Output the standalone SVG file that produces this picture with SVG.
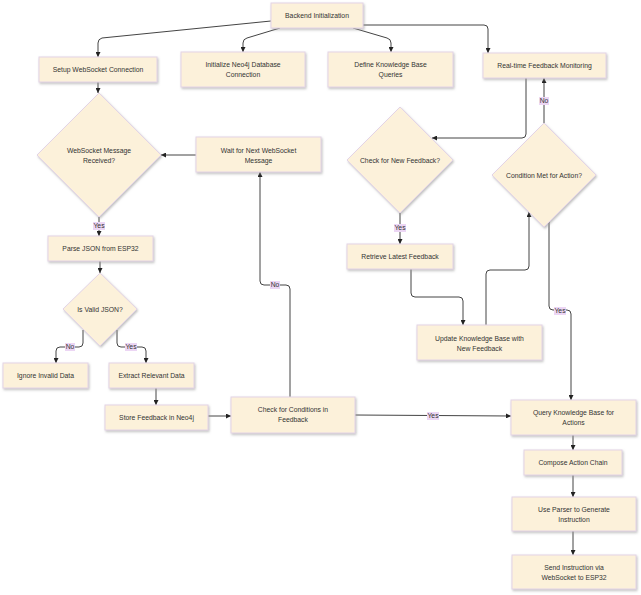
<svg xmlns="http://www.w3.org/2000/svg" width="641" height="595" viewBox="0 0 641 595">
<defs>
<style>
.n{fill:#fcf1da;stroke:#e3d3e6;stroke-width:1;filter:url(#sh)}
.t{font-family:"Liberation Sans",Arial,sans-serif;font-size:6.8px;fill:#333;text-anchor:middle}
.e{fill:none;stroke:#444;stroke-width:1;marker-end:url(#ah)}
.lb{fill:#ecd6f4}
.lt{font-family:"Liberation Sans",Arial,sans-serif;font-size:6.8px;fill:#333;text-anchor:middle}
</style>
<filter id="sh" x="-10%" y="-10%" width="130%" height="140%">
<feDropShadow dx="1" dy="1.5" stdDeviation="0.8" flood-color="#999" flood-opacity="0.6"/>
</filter>
<marker id="ah" viewBox="0 0 10 10" refX="10" refY="5" markerWidth="5" markerHeight="5" markerUnits="userSpaceOnUse" orient="auto">
<path d="M0,0 L10,5 L0,10 z" fill="#222"/>
</marker>
</defs>
<rect width="641" height="595" fill="#fff"/>
<g id="connectors">
<path class="e" d="M271,21 L102,38 Q98,39 98,43 L98,57"/>
<path class="e" d="M280,28 L247,38 Q243,39 243,43 L243,52"/>
<path class="e" d="M353,28 L387,38 Q391,39 391,43 L391,52"/>
<path class="e" d="M363,25 L484,25 Q488,25 488,29 L488,53"/>
<path class="e" d="M98,82 L98,93"/>
<path class="e" d="M99,217 L99,236"/>
<path class="e" d="M196,155 L161,155"/>
<path class="e" d="M100,261 L100,273"/>
<path class="e" d="M83,330 L83,343 Q83,347 79,347 L60,347 Q56,347 56,351 L56,363"/>
<path class="e" d="M117,330 L117,343 Q117,347 121,347 L142,347 Q146,347 146,351 L146,363"/>
<path class="e" d="M156,388 L156,405"/>
<path class="e" d="M208,416 L231,416"/>
<path class="e" d="M290,397 L290,289 Q290,285 286,285 L264,285 Q260,285 260,281 L260,172"/>
<path class="e" d="M355,415 L511,416"/>
<path class="e" d="M526,78 L526,134 Q526,138 522,138 L432,138"/>
<path class="e" d="M544,123 L544,78"/>
<path class="e" d="M400,213 L400,244"/>
<path class="e" d="M411,269 L411,293 Q411,297 415,297 L459,297 Q463,297 463,301 L463,325"/>
<path class="e" d="M486,325 L486,274 Q486,270 490,270 L525,270 Q529,270 529,266 L529,212"/>
<path class="e" d="M549,222 L549,306 Q549,310 553,310 L567,310 Q571,310 571,314 L571,400"/>
<path class="e" d="M573,435 L573,450"/>
<path class="e" d="M573,475 L573,497"/>
<path class="e" d="M573,531 L573,555"/>
<g id="labels">
<rect class="lb" x="93" y="222" width="12" height="8"/><text class="lt" x="99" y="228.4">Yes</text>
<rect class="lb" x="65" y="343" width="10" height="8"/><text class="lt" x="70" y="349.4">No</text>
<rect class="lb" x="125" y="343" width="12" height="8"/><text class="lt" x="131" y="349.4">Yes</text>
<rect class="lb" x="270" y="281" width="10" height="8"/><text class="lt" x="275" y="287.4">No</text>
<rect class="lb" x="427" y="412" width="12" height="8"/><text class="lt" x="433" y="418.4">Yes</text>
<rect class="lb" x="539" y="97" width="10" height="8"/><text class="lt" x="544" y="103.4">No</text>
<rect class="lb" x="394" y="224" width="12" height="8"/><text class="lt" x="400" y="230.4">Yes</text>
<rect class="lb" x="554" y="307" width="12" height="8"/><text class="lt" x="560" y="313.4">Yes</text>
</g>
</g>
<g id="n_backend"><rect class="n" x="271" y="3" width="92" height="25"/><text class="t" x="317" y="18">Backend Initialization</text></g>
<g id="n_setup"><rect class="n" x="39" y="57" width="118" height="25"/><text class="t" x="98" y="72">Setup WebSocket Connection</text></g>
<g id="n_neo"><rect class="n" x="181" y="52" width="124" height="35"/><text class="t" x="243" y="67">Initialize Neo4j Database</text><text class="t" x="243" y="77">Connection</text></g>
<g id="n_define"><rect class="n" x="328" y="52" width="125" height="35"/><text class="t" x="390.5" y="67">Define Knowledge Base</text><text class="t" x="390.5" y="77">Queries</text></g>
<g id="n_monitor"><rect class="n" x="483" y="53" width="123" height="25"/><text class="t" x="544.5" y="68">Real-time Feedback Monitoring</text></g>
<g id="d_ws"><polygon class="n" points="99,93 161,155 99,217 37,155"/><text class="t" x="99" y="152.5">WebSocket Message</text><text class="t" x="99" y="162.5">Received?</text></g>
<g id="n_wait"><rect class="n" x="196" y="137" width="125" height="35"/><text class="t" x="258.5" y="152.5">Wait for Next WebSocket</text><text class="t" x="258.5" y="162.5">Message</text></g>
<g id="n_parse"><rect class="n" x="48" y="236" width="105" height="25"/><text class="t" x="100.5" y="251">Parse JSON from ESP32</text></g>
<g id="d_valid"><polygon class="n" points="100,273 137,309 100,346 63,309"/><text class="t" x="100" y="311.5">Is Valid JSON?</text></g>
<g id="n_ignore"><rect class="n" x="3" y="363" width="85" height="25"/><text class="t" x="45.5" y="378">Ignore Invalid Data</text></g>
<g id="n_extract"><rect class="n" x="109" y="363" width="85" height="25"/><text class="t" x="151.5" y="378">Extract Relevant Data</text></g>
<g id="n_store"><rect class="n" x="105" y="405" width="103" height="25"/><text class="t" x="156.5" y="420">Store Feedback in Neo4j</text></g>
<g id="n_check"><rect class="n" x="231" y="397" width="124" height="36"/><text class="t" x="293" y="411.5">Check for Conditions in</text><text class="t" x="293" y="421.5">Feedback</text></g>
<g id="n_query"><rect class="n" x="511" y="400" width="125" height="35"/><text class="t" x="573.5" y="414.5">Query Knowledge Base for</text><text class="t" x="573.5" y="424.5">Actions</text></g>
<g id="d_new"><polygon class="n" points="400,107 453,160 400,213 347,160"/><text class="t" x="400" y="162.5">Check for New Feedback?</text></g>
<g id="d_cond"><polygon class="n" points="544,123 596,175 544,227 492,175"/><text class="t" x="544" y="177.5">Condition Met for Action?</text></g>
<g id="n_retrieve"><rect class="n" x="347" y="244" width="106" height="25"/><text class="t" x="400" y="259">Retrieve Latest Feedback</text></g>
<g id="n_update"><rect class="n" x="417" y="325" width="125" height="35"/><text class="t" x="479.5" y="340.5">Update Knowledge Base with</text><text class="t" x="479.5" y="350.5">New Feedback</text></g>
<g id="n_compose"><rect class="n" x="524" y="450" width="98" height="25"/><text class="t" x="573" y="465">Compose Action Chain</text></g>
<g id="n_parser"><rect class="n" x="512" y="497" width="124" height="34"/><text class="t" x="574" y="511.5">Use Parser to Generate</text><text class="t" x="574" y="521.5">Instruction</text></g>
<g id="n_send"><rect class="n" x="512" y="555" width="124" height="34"/><text class="t" x="574" y="569.5">Send Instruction via</text><text class="t" x="574" y="579.5">WebSocket to ESP32</text></g>
</svg>
